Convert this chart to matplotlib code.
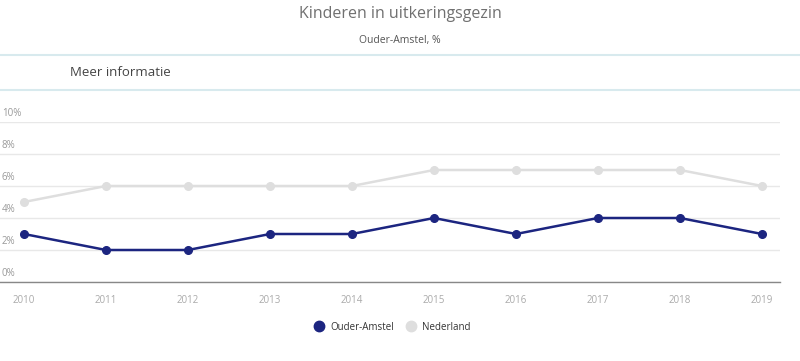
import matplotlib.pyplot as plt
from matplotlib.lines import Line2D

plt.rcParams['font.family'] = ['Open Sans', 'DejaVu Sans']

jaren = [2010, 2011, 2012, 2013, 2014, 2015, 2016, 2017, 2018, 2019]
ouder_amstel = [3, 2, 2, 3, 3, 4, 3, 4, 4, 3]
nederland = [5, 6, 6, 6, 6, 7, 7, 7, 7, 6]
y_ticks = [0, 2, 4, 6, 8, 10]

navy = '#1c2580'
licht = '#dedede'

fig = plt.figure(figsize=(8, 3.61), dpi=100)

# header
fig.text(0.5, 1 - 14 / 361, 'Kinderen in uitkeringsgezin', ha='center', va='center',
         fontsize=11.5, color='#707070')
fig.text(0.5, 1 - 40 / 361, 'Ouder-Amstel, %', ha='center', va='center',
         fontsize=7.5, color='#555555')
fig.add_artist(Line2D([0, 1], [1 - 55 / 361] * 2, color='#d8eaee', lw=1.5))
fig.add_artist(Line2D([0, 1], [1 - 90 / 361] * 2, color='#d8eaee', lw=1.5))
fig.text(70 / 800, 1 - 73 / 361, 'Meer informatie', ha='left', va='center',
         fontsize=9.5, color='#444444')

ax = fig.add_axes([0, 79 / 361, 780 / 800, 160 / 361])
ax.plot(jaren, nederland, color=licht, lw=1.8, marker='o', ms=5.5, zorder=3,
        label='Nederland')
ax.plot(jaren, ouder_amstel, color=navy, lw=1.8, marker='o', ms=5.5, zorder=4,
        label='Ouder-Amstel')

ax.set_xlim(2010 - 24 / 82, 2019 + 18 / 82)
ax.set_ylim(0, 10)
for s in ['top', 'right', 'left']:
    ax.spines[s].set_visible(False)
ax.spines['bottom'].set_color('#888888')
ax.spines['bottom'].set_linewidth(1)
ax.set_yticks(y_ticks)
ax.set_yticklabels([])
ax.tick_params(left=False, bottom=False)
ax.grid(axis='y', color='#e8e8e8', lw=1)
ax.set_axisbelow(True)
for v in y_ticks:
    ax.text(2 / 82 + ax.get_xlim()[0], v + 0.2, f'{v}%', fontsize=7,
            color='#999999', ha='left', va='bottom')
ax.set_xticks(jaren)
ax.set_xticklabels([str(j) for j in jaren], fontsize=7, color='#aaaaaa')
ax.tick_params(axis='x', pad=6)

handles = [
    Line2D([], [], color=navy, marker='o', ls='', ms=7.5, label='Ouder-Amstel'),
    Line2D([], [], color=licht, marker='o', ls='', ms=7.5, label='Nederland'),
]
fig.legend(handles=handles, loc='center', bbox_to_anchor=(390 / 800, 1 - 327 / 361),
           ncol=2, frameon=False, fontsize=7, handletextpad=0.1, columnspacing=0.8,
           labelcolor='#333333')

fig.savefig('out.png', dpi=100)
